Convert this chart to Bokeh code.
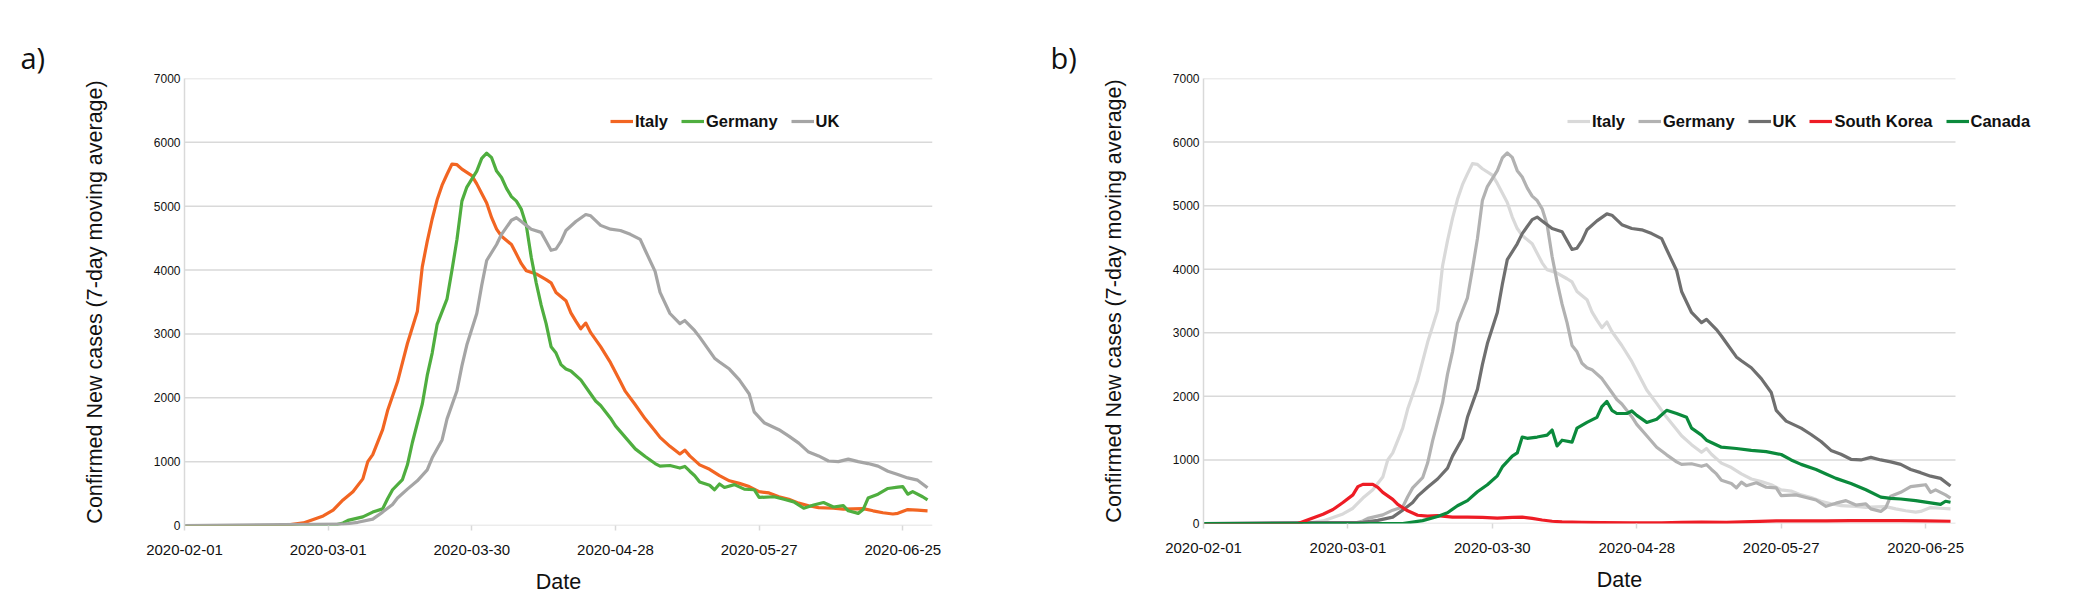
import pandas as pd
from bokeh.plotting import figure
from bokeh.layouts import row
from bokeh.models import Range1d, FixedTicker, DatetimeTickFormatter, ColumnDataSource
from bokeh.embed import file_html
from bokeh.resources import INLINE

# ---------------- data (days since 2020-02-01, 7-day moving average of new cases) ----------------
START = "2020-02-01"
LAST_DAY = 151
x_tick_labels = ["2020-02-01", "2020-03-01", "2020-03-30", "2020-04-28", "2020-05-27", "2020-06-25"]
y_ticks = [0, 1000, 2000, 3000, 4000, 5000, 6000, 7000]

italy_days = [0, 18, 21, 24, 28, 30, 32, 34, 36, 37, 38, 40, 41, 43, 44, 45, 47, 48, 49, 50, 51, 52, 53, 54, 55,
              56, 58, 59, 60, 61, 62, 63, 64, 66, 67, 68, 69, 71, 73, 74, 75, 77, 78, 79, 80, 81, 82, 84, 86, 88,
              89, 91, 93, 95, 96, 98, 100, 101, 102, 104, 106, 108, 110, 112, 114, 116, 118, 120, 122, 124, 126,
              128, 131, 133, 135, 137, 139, 141, 143, 144, 146, 148, 150]
italy_cases = [0, 0, 10, 40, 150, 240, 400, 530, 730, 1000, 1110, 1500, 1800, 2250, 2550, 2850, 3350, 4050, 4450,
               4800, 5100, 5330, 5500, 5660, 5650, 5580, 5480, 5350, 5200, 5050, 4820, 4640, 4530, 4400, 4250, 4100,
               3990, 3940, 3850, 3800, 3650, 3520, 3330, 3200, 3080, 3170, 3020, 2800, 2550, 2250, 2100, 1890, 1670,
               1480, 1380, 1240, 1120, 1180, 1090, 950, 880, 780, 700, 660, 610, 530, 510, 450, 410, 350, 310, 280,
               270, 255, 260, 265, 230, 200, 180, 190, 250, 240, 230]

germany_days = [0, 30, 32, 33, 36, 38, 40, 41, 42, 44, 45, 46, 48, 49, 50, 51, 53, 54, 55, 56, 57, 59, 60, 61, 62,
                63, 64, 65, 66, 67, 68, 69, 70, 71, 72, 73, 74, 75, 76, 77, 78, 80, 82, 83, 84, 86, 87, 89, 91, 93,
                95, 96, 98, 100, 101, 102, 103, 104, 106, 107, 108, 109, 111, 113, 115, 116, 119, 121, 123, 125,
                127, 129, 131, 133, 134, 136, 137, 138, 140, 142, 144, 145, 146, 147, 149, 150]
germany_cases = [0, 0, 40, 80, 135, 210, 260, 420, 560, 720, 950, 1300, 1900, 2350, 2700, 3150, 3550, 4000, 4480,
                 5080, 5300, 5550, 5750, 5830, 5760, 5550, 5450, 5280, 5150, 5080, 4950, 4700, 4200, 3800, 3450,
                 3160, 2800, 2700, 2520, 2450, 2420, 2280, 2060, 1950, 1880, 1680, 1560, 1380, 1200, 1080, 970, 930,
                 940, 900, 925, 850, 780, 680, 630, 560, 650, 595, 640, 570, 560, 440, 450, 410, 370, 270, 320, 360,
                 290, 310, 230, 190, 250, 430, 490, 580, 600, 610, 490, 530, 450, 400]

uk_days = [0, 32, 35, 38, 40, 42, 43, 45, 47, 49, 50, 52, 53, 55, 56, 57, 59, 60, 61, 63, 64, 66, 67, 68, 69, 70,
           72, 73, 74, 75, 76, 77, 79, 81, 82, 84, 86, 88, 90, 92, 93, 95, 96, 98, 100, 101, 103, 104, 105, 107,
           108, 110, 112, 114, 115, 117, 120, 122, 124, 126, 128, 130, 132, 134, 136, 138, 140, 142, 144, 146,
           148, 150]
uk_cases = [0, 20, 50, 100, 210, 330, 430, 570, 700, 870, 1060, 1340, 1670, 2110, 2500, 2830, 3320, 3760, 4150,
            4400, 4560, 4780, 4820, 4760, 4700, 4640, 4590, 4450, 4310, 4330, 4450, 4620, 4760, 4870, 4850, 4700,
            4640, 4620, 4560, 4480, 4310, 3980, 3650, 3320, 3160, 3210, 3050, 2950, 2840, 2620, 2560, 2450, 2280,
            2060, 1780, 1610, 1500, 1400, 1290, 1150, 1090, 1010, 1000, 1040, 1000, 970, 930, 850, 800, 745, 710,
            590]

korea_days = [0, 19, 21, 24, 26, 28, 30, 31, 32, 34, 35, 36, 38, 39, 41, 43, 45, 47, 50, 53, 56, 59, 62, 64, 66,
              68, 70, 72, 76, 80, 86, 92, 96, 100, 105, 110, 115, 120, 125, 130, 135, 140, 145, 150]
korea_cases = [0, 0, 60, 145, 220, 330, 450, 580, 615, 615, 570, 490, 380, 300, 200, 130, 115, 125, 100, 100, 95,
               85, 95, 100, 80, 55, 35, 25, 20, 15, 10, 10, 18, 22, 18, 28, 40, 40, 42, 45, 45, 45, 40, 35]

canada_days = [0, 40, 44, 47, 49, 51, 53, 55, 57, 59, 60, 62, 63, 64, 65, 67, 69, 70, 71, 72, 74, 75, 77, 79, 80,
               81, 82, 83, 85, 86, 87, 89, 91, 93, 95, 97, 98, 100, 101, 104, 107, 110, 113, 116, 118, 120, 123,
               125, 127, 130, 133, 136, 138, 140, 143, 146, 148, 149, 150]
canada_cases = [0, 0, 45, 110, 170, 280, 360, 500, 610, 750, 890, 1060, 1110, 1360, 1340, 1360, 1390, 1470, 1220,
                1310, 1280, 1500, 1590, 1670, 1840, 1920, 1780, 1730, 1730, 1770, 1700, 1590, 1640, 1780, 1730,
                1670, 1500, 1390, 1310, 1200, 1180, 1150, 1130, 1085, 1000, 930, 850, 780, 710, 630, 530, 415, 395,
                385, 360, 325, 300, 350, 335]


def to_dates(days):
    return pd.Timestamp(START) + pd.to_timedelta(days, unit="D")


SERIES = {
    "Italy": (italy_days, italy_cases),
    "Germany": (germany_days, germany_cases),
    "UK": (uk_days, uk_cases),
    "South Korea": (korea_days, korea_cases),
    "Canada": (canada_days, canada_cases),
}

panel_a = [("Italy", "#F26522"), ("Germany", "#4FAE3F"), ("UK", "#A5A5A5")]
panel_b = [("Italy", "#D9D9D9"), ("Germany", "#B2B2B2"), ("UK", "#6F6F6F"),
           ("South Korea", "#EE1C25"), ("Canada", "#0B8A3C")]

GRID = "#D9D9D9"
TEXT = "#111111"
TICK_MS = [pd.Timestamp(s).value // 10**6 for s in x_tick_labels]
X_START = pd.Timestamp(START)
X_LAST = X_START + pd.Timedelta(days=LAST_DAY)


def make_panel(entries, tag, data_w, extra_w, frame_h, b_left, b_right, b_bottom, leg_x, leg_y, tag_off):
    # the frame is widened by extra_w px (empty) so that the legend may run past the data area
    frame_w = data_w + extra_w
    x_end = X_START + pd.Timedelta(days=LAST_DAY * frame_w / data_w)
    p = figure(x_axis_type="datetime", frame_width=frame_w, frame_height=frame_h,
               min_border_left=b_left, min_border_right=b_right, min_border_top=78,
               min_border_bottom=b_bottom, output_backend="svg", toolbar_location=None,
               x_range=Range1d(X_START, x_end), y_range=Range1d(0, 7000))
    p.outline_line_color = None
    p.background_fill_color = "white"
    p.border_fill_color = "white"

    # horizontal grid lines, ending where the data area ends
    n = len(y_ticks)
    p.segment(x0=[X_START] * n, x1=[X_LAST] * n, y0=y_ticks, y1=y_ticks,
              line_color=GRID, line_width=1.5, level="underlay")

    for name, color in entries:
        d, v = SERIES[name]
        src = ColumnDataSource(dict(x=to_dates(d), y=v))
        p.line("x", "y", source=src, line_color=color, line_width=3.2, legend_label=name,
               line_join="round")

    # x axis
    p.xaxis.ticker = FixedTicker(ticks=TICK_MS)
    fmt = "%Y-%m-%d"
    p.xaxis.formatter = DatetimeTickFormatter(days=fmt, months=fmt, years=fmt, hours=fmt,
                                              hourmin=fmt, minutes=fmt, seconds=fmt,
                                              milliseconds=fmt, microseconds=fmt, minsec=fmt)
    p.xaxis.axis_line_color = None
    p.xaxis.major_tick_line_color = GRID
    p.xaxis.major_tick_line_width = 1.5
    p.xaxis.major_tick_out = 5
    p.xaxis.major_tick_in = 0
    p.xaxis.minor_tick_line_color = None
    p.xaxis.major_label_text_font = "Liberation Sans"
    p.xaxis.major_label_text_font_size = "15px"
    p.xaxis.major_label_text_color = TEXT
    p.xaxis.major_label_standoff = 14
    p.xaxis.axis_label = "Date"
    p.xaxis.axis_label_text_font = "Liberation Sans"
    p.xaxis.axis_label_text_font_size = "21.5px"
    p.xaxis.axis_label_text_font_style = "normal"
    p.xaxis.axis_label_text_color = TEXT
    p.xaxis.axis_label_standoff = 12

    # y axis
    p.yaxis.ticker = FixedTicker(ticks=y_ticks)
    p.yaxis.axis_line_color = GRID
    p.yaxis.axis_line_width = 1.5
    p.yaxis.major_tick_line_color = None
    p.yaxis.major_tick_out = 0
    p.yaxis.major_tick_in = 0
    p.yaxis.minor_tick_line_color = None
    p.yaxis.major_label_text_font = "Liberation Sans"
    p.yaxis.major_label_text_font_size = "12px"
    p.yaxis.major_label_text_color = TEXT
    p.yaxis.major_label_standoff = 4
    p.yaxis.axis_label = "Confirmed New cases (7-day moving average)"
    p.yaxis.axis_label_text_font = "Liberation Sans"
    p.yaxis.axis_label_text_font_size = "21.5px"
    p.yaxis.axis_label_text_font_style = "normal"
    p.yaxis.axis_label_text_color = TEXT
    p.yaxis.axis_label_standoff = 44

    p.xgrid.grid_line_color = None
    p.ygrid.grid_line_color = None

    leg = p.legend[0]
    leg.orientation = "horizontal"
    leg.location = (leg_x, leg_y)
    leg.background_fill_alpha = 0
    leg.border_line_alpha = 0
    leg.padding = 0
    leg.margin = 0
    leg.spacing = 13
    leg.glyph_width = 23
    leg.glyph_height = 20
    leg.label_height = 20
    leg.label_standoff = 2
    leg.label_text_font = "Liberation Sans"
    leg.label_text_font_style = "bold"
    leg.label_text_font_size = "16.5px"
    leg.label_text_color = TEXT

    # panel tag ("a)" / "b)") as a left-aligned title shifted left past the frame
    p.title.text = tag
    p.title.align = "left"
    p.title.offset = tag_off
    p.title.text_font = "Open Sans"
    p.title.text_font_style = "normal"
    p.title.text_font_size = "29px"
    p.title.text_color = TEXT
    p.title.standoff = 3
    return p


pa = make_panel(panel_a, "a)", 748, 0, 447, 184, 100, 73, 426, 394, -164)
pb = make_panel(panel_b, "b)", 752, 80, 445, 171, 29, 75, 364, 392, -153)

layout = row(pa, pb, spacing=0)
open("out.html", "w").write(file_html(layout, INLINE))
